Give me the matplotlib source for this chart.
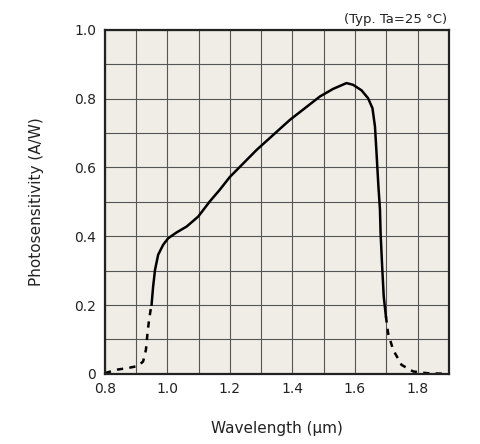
import numpy as np
import matplotlib.pyplot as plt

# solid part of the curve
wl_solid = [0.950, 0.955, 0.961, 0.971, 0.987, 1.003, 1.030, 1.062, 1.099, 1.136,
            1.168, 1.200, 1.286, 1.392, 1.488, 1.530, 1.573, 1.594, 1.621, 1.642,
            1.656, 1.664, 1.669, 1.675, 1.680, 1.682, 1.687, 1.692, 1.699]
ps_solid = [0.201, 0.254, 0.302, 0.346, 0.375, 0.394, 0.411, 0.428, 0.457, 0.501,
            0.535, 0.572, 0.651, 0.738, 0.806, 0.828, 0.845, 0.840, 0.824, 0.801,
            0.772, 0.719, 0.642, 0.545, 0.477, 0.409, 0.312, 0.225, 0.167]

# dashed tails
wl_left = [0.801, 0.838, 0.875, 0.907, 0.923, 0.932, 0.937, 0.942, 0.947, 0.950]
ps_left = [0.002, 0.012, 0.017, 0.023, 0.036, 0.070, 0.118, 0.157, 0.186, 0.201]
wl_right = [1.699, 1.706, 1.722, 1.749, 1.786, 1.829, 1.898]
ps_right = [0.167, 0.118, 0.070, 0.026, 0.007, 0.002, 0.000]

xticks = [0.8, 1.0, 1.2, 1.4, 1.6, 1.8]
xticklabels = ['0.8', '1.0', '1.2', '1.4', '1.6', '1.8']
yticks = [0, 0.2, 0.4, 0.6, 0.8, 1.0]
yticklabels = ['0', '0.2', '0.4', '0.6', '0.8', '1.0']

fig = plt.figure(figsize=(4.8, 4.44), dpi=100)
ax = fig.add_axes([0.218, 0.158, 0.717, 0.775])
ax.set_facecolor('#efede6')

ax.plot(wl_solid, ps_solid, color='black', lw=1.8, solid_joinstyle='round')
ax.plot(wl_left, ps_left, color='black', lw=1.8, ls=(0, (2.5, 2.5)))
ax.plot(wl_right, ps_right, color='black', lw=1.8, ls=(0, (2.5, 2.5)))

ax.set_xlim(0.8, 1.9)
ax.set_ylim(0, 1.0)
ax.set_xticks(np.arange(0.8, 1.91, 0.1), minor=True)
ax.set_yticks(np.arange(0, 1.01, 0.1), minor=True)
ax.set_xticks(xticks)
ax.set_xticklabels(xticklabels)
ax.set_yticks(yticks)
ax.set_yticklabels(yticklabels)
ax.grid(which='both', color='#555555', lw=0.8)
ax.set_axisbelow(True)
ax.tick_params(which='both', length=0, labelsize=10, colors='#222222', pad=6)
for s in ax.spines.values():
    s.set_linewidth(1.6)
    s.set_color('#222222')

ax.set_xlabel('Wavelength (µm)', fontsize=11, color='#222222', labelpad=18)
ax.set_ylabel('Photosensitivity (A/W)', fontsize=11, color='#222222', labelpad=22)
fig.text(0.932, 0.955, '(Typ. Ta=25 °C)', ha='right', va='center', fontsize=9.5, color='#222222')

fig.savefig('out.png', dpi=100)
